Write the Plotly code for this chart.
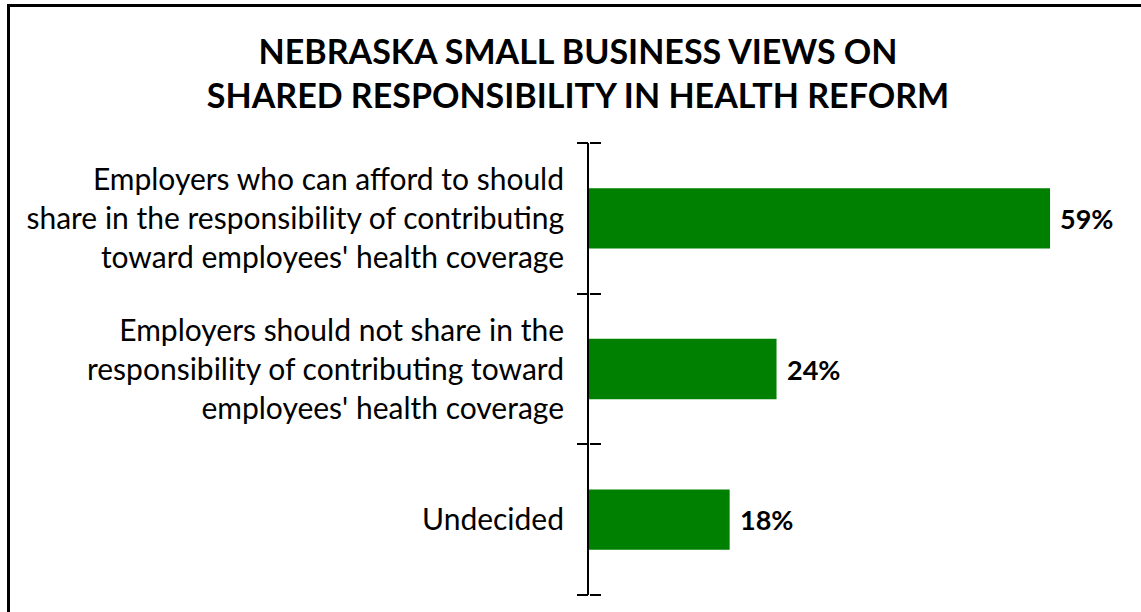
import plotly.graph_objects as go

categories = [
    "Employers who can afford to should<br>share in the responsibility of contributing<br>toward employees' health coverage",
    "Employers should not share in the<br>responsibility of contributing toward<br>employees' health coverage",
    "Undecided",
]
values = [59, 24, 18]
value_labels = ["59%", "24%", "18%"]
title_text = "NEBRASKA SMALL BUSINESS VIEWS ON<br>SHARED RESPONSIBILITY IN HEALTH REFORM"
boundaries = [-0.5, 0.5, 1.5, 2.5]

W, H = 1141, 612
ML, MR, MT, MB = 589, 5, 143, 17
PW, PH = W - ML - MR, H - MT - MB

fig = go.Figure()
fig.add_trace(go.Bar(
    x=values, y=categories, orientation="h",
    marker=dict(color="#008000", line=dict(width=0)),
    width=0.4, hoverinfo="skip",
))
# empty helper traces so the tick-only axes are drawn
fig.add_trace(go.Scatter(x=[None], y=[None], yaxis="y2", mode="markers",
                         hoverinfo="skip", showlegend=False))
fig.add_trace(go.Scatter(x=[None], y=[None], yaxis="y3", mode="markers",
                         hoverinfo="skip", showlegend=False))

for v, lab, cat in zip(values, value_labels, categories):
    fig.add_annotation(
        x=v, y=cat, xref="x", yref="y", text="<b>%s</b>" % lab,
        showarrow=False, xanchor="left", yanchor="middle", xshift=8,
        font=dict(family="Lato", size=27, color="#000000"),
    )

# border (left and top edges of the chart frame)
fig.add_shape(
    type="rect", xref="paper", yref="paper",
    x0=(8.5 - ML) / PW, x1=1.2, y0=-0.5, y1=(H - MB - 5.5) / PH,
    line=dict(color="#000000", width=3), fillcolor="rgba(0,0,0,0)", layer="above",
)

tick_axis = dict(
    overlaying="y",
    range=[2.5, -0.5], tickmode="array", tickvals=boundaries,
    ticks="outside", ticklen=11, tickwidth=2, tickcolor="#000000",
    showticklabels=False, showline=False, showgrid=False, zeroline=False,
)

fig.update_layout(
    width=W, height=H,
    margin=dict(l=ML, r=MR, t=MT, b=MB, pad=0),
    paper_bgcolor="#ffffff", plot_bgcolor="#ffffff",
    showlegend=False,
    title=dict(
        text="<b>%s</b>" % title_text,
        x=578 / W, xanchor="center", xref="container",
        y=1 - 64 / H, yanchor="middle", yref="container",
        font=dict(family="Lato", size=34, color="#000000"),
    ),
    xaxis=dict(range=[0, 70], visible=False, fixedrange=True, domain=[0, 1]),
    yaxis=dict(
        type="category", categoryorder="array", categoryarray=categories,
        range=[2.5, -0.5], ticks="",
        showline=True, linecolor="#000000", linewidth=2,
        showgrid=False, zeroline=False,
        tickfont=dict(family="Lato", size=30, color="#000000"),
        ticklabelstandoff=17,
    ),
    # ticks pointing left of the axis line
    yaxis2=dict(tick_axis, anchor="x", side="left"),
    # ticks pointing right of the axis line (right-side axis placed at the left edge)
    yaxis3=dict(tick_axis, anchor="free", position=0, side="right"),
)

fig.write_html("out.html")
